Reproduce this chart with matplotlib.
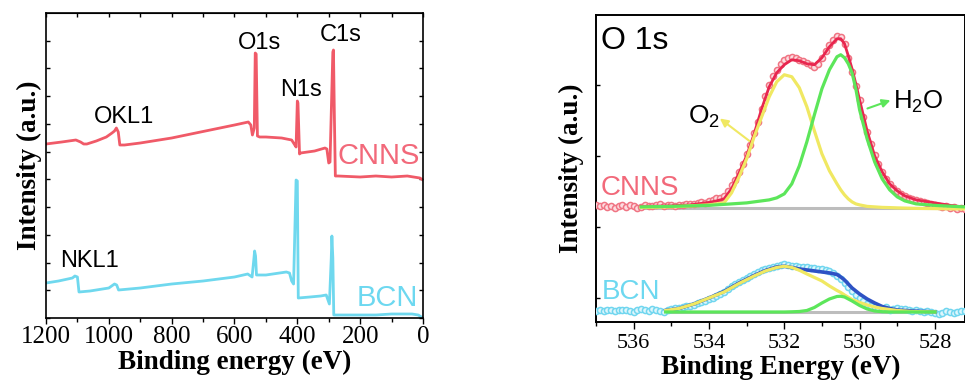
import matplotlib
matplotlib.use('Agg')
import matplotlib.pyplot as plt
import numpy as np
from matplotlib.ticker import MultipleLocator

plt.rcParams['mathtext.fontset'] = 'custom'
plt.rcParams['mathtext.rm'] = 'Liberation Sans'

# ---- survey spectra (binding energy in eV, intensity in a.u.) ----
cnns_survey_e = [1200, 1150, 1105, 1090, 1080, 1070, 1040, 1008, 990, 982, 976, 970, 965,
                 950, 900, 800, 708, 600, 556, 548, 543, 537, 534, 531, 527, 520, 500,
                 450, 418, 410, 404, 400, 398, 393, 390, 345, 312, 306, 300, 296, 287,
                 285, 282, 279, 270, 200, 150, 100, 50, 30, 10, 0]
cnns_survey_i = [174, 176, 178, 176, 174, 174, 177, 181, 185, 187, 190, 186, 173,
                 173, 175, 180, 186, 193, 196, 193, 183, 190, 265, 264, 182, 181, 181,
                 180, 178, 174, 171, 217, 215, 164, 165, 167, 170, 169, 155, 156, 266,
                 268, 200, 142, 142, 141, 142, 141, 142, 141, 140, 138]
bcn_survey_e = [1200, 1160, 1116, 1108, 1100, 1095, 1060, 1000, 982, 975, 969, 900, 800,
                700, 600, 558, 544, 538, 536, 533, 530, 500, 435, 425, 418, 412, 404,
                400, 397, 360, 326, 308, 298, 292, 290, 287, 284, 250, 150, 100, 35,
                15, 0]
bcn_survey_i = [35, 37, 40, 42, 41, 26, 27, 30, 34, 33, 28, 30, 34,
                37, 41, 44, 41, 60, 67, 62, 43, 43, 46, 45, 37, 34, 138,
                137, 20, 21, 22, 23, 14, 60, 82, 60, 3, 3, 3, 4, 4,
                3, 0]

# ---- O 1s high resolution (eV, a.u.) ----
o1s_e = np.round(np.arange(537.0, 527.15, -0.1), 1)
cnns_o1s = [117, 116, 117, 115, 116, 114, 116, 117, 115, 117,
            116, 114, 115, 117, 116, 116, 117, 118, 116, 117,
            117, 116, 117, 117, 118, 118, 118, 119, 120, 119,
            121, 122, 124, 124, 126, 131, 137, 142, 150, 158,
            168, 177, 189, 200, 213, 226, 237, 246, 252, 258,
            262, 264, 265, 264, 262, 261, 259, 257, 255, 258,
            264, 271, 277, 282, 286, 285, 278, 264, 250, 236,
            222, 205, 190, 178, 167, 158, 150, 143, 138, 134,
            131, 128, 126, 124, 123, 122, 121, 120, 119, 118,
            117, 116, 115, 116, 114, 115, 113, 114, 113]
bcn_o1s = [11, 12, 11, 12, 12, 11, 12, 12, 12, 11,
           10, 12, 13, 12, 11, 13, 12, 11, 10, 12,
           13, 14, 14, 15, 16, 16, 17, 19, 20, 21,
           23, 24, 26, 28, 30, 33, 36, 38, 40, 42,
           44, 46, 48, 50, 52, 53, 54, 55, 56, 57,
           58, 57, 56, 56, 55, 55, 55, 54, 54, 53,
           53, 52, 51, 49, 46, 43, 39, 35, 31, 27,
           24, 21, 18, 16, 15, 14, 13, 15, 12, 13,
           14, 13, 13, 12, 11, 12, 11, 10, 11, 10,
           9, 8, 9, 11, 10, 9, 10, 11, 11]

# fitted curves, CNNS
cnns_fit_e = [535.8, 535.0, 534.5, 534.0, 533.8, 533.6, 533.4, 533.2, 533.0, 532.8,
              532.6, 532.4, 532.2, 532.0, 531.8, 531.6, 531.4, 531.2, 531.0, 530.8,
              530.6, 530.5, 530.4, 530.3, 530.2, 530.1, 530.0, 529.8, 529.6, 529.4,
              529.2, 529.0, 528.8, 528.5, 528.0, 527.5, 527.2]
cnns_fit_sum = [115.5, 116, 117, 119.5, 121, 123, 133, 149, 166, 188,
                213, 235, 249, 257, 262, 261, 258, 257, 264, 275,
                283, 283, 278, 266, 253, 238, 222, 191, 166, 150,
                138, 131, 126, 122, 119, 116, 115]
cnns_fit_o2 = [114.5, 115, 116, 117, 118, 119, 129, 145, 163, 185,
               205, 225, 240, 247, 245, 234, 215, 191, 168, 151,
               138, 132, 127, 123, 120, 118, 117, 115.5, 115, 114.5,
               114.3, 114, 113.8, 113.5, 113.3, 113, 113]
cnns_fit_h2o = [115, 115.5, 116, 116.5, 117, 117.5, 118, 118.5, 119, 120,
                121, 122, 124, 128, 138, 156, 180, 207, 233, 252,
                265, 267, 264, 258, 249, 233, 212, 183, 160, 143,
                132, 125, 121, 118, 116.5, 115.5, 115]
cnns_bg_e = [535.8, 527.2]
cnns_bg = [113.5, 113.5]

# fitted curves, BCN
bcn_fit_e = [535.15, 534.8, 534.4, 534.0, 533.6, 533.2, 532.8, 532.5, 532.2, 532.0,
             531.8, 531.6, 531.4, 531.2, 531.0, 530.8, 530.6, 530.5, 530.4, 530.2,
             530.0, 529.8, 529.6, 529.4, 529.2, 529.0, 528.6, 528.0]
bcn_fit_sum = [11.5, 13.5, 18, 24, 30.5, 39, 46.5, 51.5, 55, 55.7,
               54.5, 53, 52, 51, 50, 49, 47.5, 45, 42, 34,
               28, 23, 19, 15.5, 13.5, 12, 11, 10]
bcn_fit_o2 = [11.5, 13.5, 18, 24, 30, 38.5, 46, 51, 54.5, 55.7,
              54.5, 51.7, 48, 44.5, 41, 36, 31.5, 29.5, 27, 22.5,
              19.5, 17, 15, 13.5, 12.5, 11.5, 10.5, 10]
bcn_fit_h2o = [10, 10, 10, 10, 10, 10, 10, 10, 10, 10,
               10.2, 10.5, 11.5, 14.5, 19, 23, 25.5, 25.7, 25, 21,
               16.5, 13, 11, 10.3, 10, 10, 10, 10]
bcn_bg_e = [535.15, 528.0]
bcn_bg = [9.5, 9.5]

red_line = '#f05a68'
cyan_line = '#6fd8ee'
red_txt = '#f2697a'
cyan_txt = '#6dd8f0'
yellow = '#f0e862'
green = '#5ce65a'

serif = 'Liberation Serif'
sans = 'Liberation Sans'

fig = plt.figure(figsize=(9.65, 3.81), dpi=100)

# ================= survey =================
ax1 = fig.add_axes([0.04767, 0.16535, 0.39067, 0.80052])
ax1.plot(cnns_survey_e, cnns_survey_i, color=red_line, lw=2.0)
ax1.plot(bcn_survey_e, bcn_survey_i, color=cyan_line, lw=2.0)
ax1.set_xlim(1200, 0)
ax1.set_ylim(0, 305)
ax1.xaxis.set_major_locator(MultipleLocator(200))
ax1.xaxis.set_minor_locator(MultipleLocator(100))
ax1.yaxis.set_major_locator(MultipleLocator(27.75))
ax1.tick_params(axis='x', which='major', direction='out', length=4, width=1, pad=2)
ax1.tick_params(axis='x', which='minor', direction='out', length=3, width=1)
ax1.tick_params(axis='y', which='both', direction='in', length=3, width=1,
                left=True, right=True, labelleft=False)
top1 = ax1.secondary_xaxis('top')
top1.xaxis.set_major_locator(MultipleLocator(100))
top1.tick_params(direction='in', length=3, width=1, labeltop=False)
for lab in ax1.get_xticklabels():
    lab.set_fontfamily(serif)
    lab.set_fontsize(18)
for s in ax1.spines.values():
    s.set_linewidth(1.2)
ax1.set_xlabel('Binding energy (eV)', fontfamily=serif, fontweight='bold',
               fontsize=19.5, labelpad=1)
ax1.set_ylabel('Intensity (a.u.)', fontfamily=serif, fontweight='bold',
               fontsize=19.5, labelpad=3)

kw = dict(fontfamily=sans, fontsize=17, va='baseline', ha='center', color='black')
ax1.text(520, 268.7, 'O1s', **kw)
ax1.text(262, 277, 'C1s', **kw)
ax1.text(389, 222, 'N1s', **kw)
ax1.text(951, 195, 'OKL1', **kw)
ax1.text(1063, 51, 'NKL1', **kw)
ax1.text(8.5, 154, 'CNNS', fontfamily=sans, fontsize=21, ha='right', va='baseline',
         color=red_txt)
ax1.text(17, 12, 'BCN', fontfamily=sans, fontsize=21, ha='right', va='baseline',
         color=cyan_txt)

# ================= O 1s =================
ax2 = fig.add_axes([0.61762, 0.15486, 0.38238, 0.80577])
ax2.plot(cnns_bg_e, cnns_bg, color='#bdbdbd', lw=2.2, zorder=2)
ax2.plot(bcn_bg_e, bcn_bg, color='#bdbdbd', lw=2.2, zorder=2)
ax2.plot(o1s_e, cnns_o1s, ls='none', marker='o', ms=4.4, mfc='#fcdde1',
         mec='#f07483', mew=1.1, zorder=3)
ax2.plot(o1s_e, bcn_o1s, ls='none', marker='o', ms=4.4, mfc='#dff6fc',
         mec='#70d6ef', mew=1.1, zorder=3)
ax2.plot(cnns_fit_e, cnns_fit_sum, color='#e8264f', lw=2.0, zorder=4)
ax2.plot(cnns_fit_e, cnns_fit_o2, color=yellow, lw=2.3, zorder=5)
ax2.plot(cnns_fit_e, cnns_fit_h2o, color=green, lw=2.3, zorder=6)
ax2.plot(bcn_fit_e, bcn_fit_sum, color='#2e52c4', lw=2.6, zorder=4)
ax2.plot(bcn_fit_e, bcn_fit_o2, color=yellow, lw=2.3, zorder=5)
ax2.plot(bcn_fit_e, bcn_fit_h2o, color=green, lw=2.3, zorder=6)

ax2.set_xlim(537.0, 527.2)
ax2.set_ylim(0, 306.7)
ax2.xaxis.set_major_locator(MultipleLocator(2))
ax2.xaxis.set_minor_locator(MultipleLocator(1))
ax2.yaxis.set_major_locator(MultipleLocator(71, offset=23.7))
ax2.tick_params(axis='x', which='major', direction='out', length=5, width=1, pad=4)
ax2.tick_params(axis='x', which='minor', direction='out', length=3, width=1)
ax2.tick_params(axis='y', which='both', direction='in', length=3, width=1,
                labelleft=False)
for lab in ax2.get_xticklabels():
    lab.set_fontfamily(serif)
    lab.set_fontsize(16)
for s in ax2.spines.values():
    s.set_linewidth(1.4)
ax2.set_xlabel('Binding Energy (eV)', fontfamily=serif, fontweight='bold',
               fontsize=19.5, labelpad=1)
ax2.set_ylabel('Intensity (a.u.)', fontfamily=serif, fontweight='bold',
               fontsize=19.5, labelpad=9)

ax2.text(536.87, 272.4, 'O 1s', fontfamily=sans, fontsize=23, ha='left', va='baseline')
ax2.text(536.87, 126.7, 'CNNS', fontfamily=sans, fontsize=20, ha='left',
         va='baseline', color=red_txt)
ax2.text(536.84, 23.4, 'BCN', fontfamily=sans, fontsize=20, ha='left',
         va='baseline', color=cyan_txt)
ax2.annotate('', xy=(533.77, 205), xytext=(532.84, 178.4),
             arrowprops=dict(arrowstyle='-|>', color=yellow, lw=1.5, mutation_scale=12))
ax2.text(534.56, 198.4, r'O$_\mathregular{2}$', fontfamily=sans, fontsize=19,
         ha='left', va='baseline')
ax2.annotate('', xy=(529.11, 222.4), xytext=(529.86, 212.4),
             arrowprops=dict(arrowstyle='-|>', color=green, lw=1.5, mutation_scale=12))
ax2.text(529.1, 213.4, r'H$_\mathregular{2}$O', fontfamily=sans, fontsize=18.5,
         ha='left', va='baseline')

plt.savefig('out.png', dpi=100)
